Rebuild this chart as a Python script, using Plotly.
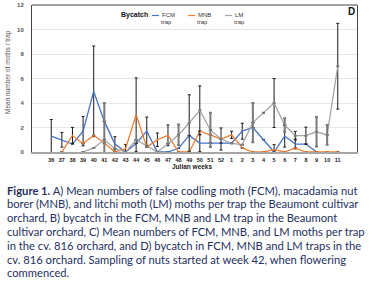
import plotly.graph_objects as go

# ---------------- data ----------------
weeks = ["36", "37", "38", "39", "40", "41", "42", "43", "44", "45", "46", "47", "48", "49",
         "50", "51", "52", "1", "2", "3", "4", "5", "6", "7", "8", "9", "10", "11"]

fcm = [1.3, 1.0, 0.65, 1.7, 4.95, 2.5, 0.65, 0, 0.7, 1.7, 0, 0, 0.3, 1.35,
       0.73, 0.73, 0.73, 0.73, 1.7, 2.0, 1.0, 0, 1.3, 0.65, 0.65, 0, None, None]
mnb = [None, 0, 1.36, 0.68, 1.36, 0.73, 0, 0.27, 3.05, 0.4, 1.0, 1.36, 0, 0,
       1.7, 1.4, 1.06, 1.4, 0.33, 0, 0, 0.2, 0, 0.33, 0, 0, 0, 0]
lm = [None, None, None, 0, 0.33, 1.0, 0.27, 0, 1.0, 0.5, 0, 0.68, 1.4, 2.37,
      3.4, 1.8, 1.06, 0.7, 0.6, 2.4, 3.2, 4.0, 2.2, 1.33, 1.33, 1.65, 1.4, 7.0]

fcm_err = [1.35, 0.6, None, 1.2, 3.7, None, 0.6, None, None, 1.15, None, None, None, None,
           0.7, None, None, None, 0.65, None, None, None, 0.9, 0.4, None, None, None, None]
mnb_err = [None, None, 0.65, None, None, None, None, 0.35, 3.0, None, 0.55, 0.85, None, None,
           None, None, None, 0.3, None, None, None, 0.4, None, None, None, None, None, None]
lm_err_dark = [None, None, None, None, None, None, None, None, None, None, None, None, None, 2.3,
               2.0, None, 0.9, None, None, None, None, 2.0, None, 0.35, 0.7, None, None, 3.5]
lm_err_grey = [None, None, None, None, None, 3.0, None, None, None, None, None, None, 0.85, None,
               None, 1.4, None, None, None, 1.6, None, None, 0.55, None, None, 1.2, 0.8, None]

series_names = ["FCM", "MNB", "LM"]
series_colors = ["#4472C4", "#ED7D31", "#A5A5A5"]
y_ticks = [0, 2, 4, 6, 8, 10, 12]

caption_lines = [
    "<b>Figure 1.</b> A) Mean numbers of false codling moth (FCM), macadamia nut",
    "borer (MNB), and litchi moth (LM) moths per trap the Beaumont cultivar",
    "orchard, B) bycatch in the FCM, MNB and LM trap in the Beaumont",
    "cultivar orchard, C) Mean numbers of FCM, MNB, and LM moths per trap",
    "in the cv. 816 orchard, and D) bycatch in FCM, MNB and LM traps in the",
    "cv. 816 orchard. Sampling of nuts started at week 42, when flowering",
    "commenced.",
]

# ---------------- layout helpers ----------------
W, H = 373, 290
L, R, T, B = 32, 16, 5, 138
PW, PH = W - L - R, H - T - B


def px(xp):
    return (xp - L) / PW


def py(yp):
    return (H - B - yp) / PH


fig = go.Figure()

err_black = dict(type="data", visible=True, color="#1a1a1a", thickness=1, width=1.5)

fig.add_trace(go.Scatter(x=weeks, y=fcm, mode="lines", name="FCM trap",
                         line=dict(color=series_colors[0], width=1.3),
                         error_y=dict(array=fcm_err, **err_black)))
fig.add_trace(go.Scatter(x=weeks, y=mnb, mode="lines", name="MNB trap",
                         line=dict(color=series_colors[1], width=1.3),
                         error_y=dict(array=mnb_err, **err_black)))
fig.add_trace(go.Scatter(x=weeks, y=lm, mode="lines", name="LM trap",
                         line=dict(color=series_colors[2], width=1.3),
                         error_y=dict(array=lm_err_dark, **err_black)))
fig.add_trace(go.Scatter(x=weeks, y=lm, mode="markers", showlegend=False, hoverinfo="skip",
                         marker=dict(size=1, color="rgba(0,0,0,0)"),
                         error_y=dict(type="data", array=lm_err_grey, color="#7a7a7a",
                                      thickness=2, width=1.5)))

fig.update_layout(
    width=W, height=H,
    margin=dict(l=L, r=R, t=T, b=B, pad=0, autoexpand=False),
    paper_bgcolor="white", plot_bgcolor="white",
    showlegend=False,
    font=dict(family="Liberation Sans, Arial, sans-serif"),
)

fig.update_xaxes(
    type="category", categoryorder="array", categoryarray=weeks,
    showgrid=False, showline=True, linecolor="#a6a6a6", linewidth=2,
    ticks="", tickfont=dict(size=5.5, color="#222", weight="bold"),
    ticklabelstandoff=1, zeroline=False, tickangle=0, automargin=False,
)
fig.update_yaxes(
    range=[0, 12], tickvals=y_ticks, showgrid=True, gridcolor="#e6e6e6", gridwidth=1,
    showline=True, linecolor="#444", linewidth=1, mirror=True,
    ticks="", tickfont=dict(size=6, color="#555", weight="bold"),
    ticklabelstandoff=6, zeroline=False, automargin=False,
)

shapes = [
    dict(type="line", xref="paper", yref="paper", x0=0, x1=1, y0=1, y1=1,
         line=dict(color="#444", width=1)),
]

annotations = []
# legend (manual, compact)
annotations.append(dict(text="<b>Bycatch</b>", x=px(119), y=py(15), xref="paper", yref="paper",
                        xanchor="left", yanchor="middle", showarrow=False,
                        font=dict(size=7, color="#111")))
leg_x = [152, 188, 225]
for i, (nm, col) in enumerate(zip(series_names, series_colors)):
    x0 = leg_x[i]
    shapes.append(dict(type="line", xref="paper", yref="paper", x0=px(x0), x1=px(x0 + 7),
                       y0=py(15.5), y1=py(15.5), line=dict(color=col, width=1.2)))
    annotations.append(dict(text=nm, x=px(x0 + 8), y=py(15.5), xref="paper", yref="paper",
                            xanchor="left", yanchor="middle", showarrow=False,
                            font=dict(size=6, color="#333")))
    annotations.append(dict(text="trap", x=px(x0 + 14), y=py(21.5), xref="paper", yref="paper",
                            xanchor="center", yanchor="middle", showarrow=False,
                            font=dict(size=6, color="#333")))

annotations.append(dict(text="<b>D</b>", x=px(351), y=py(11), xref="paper", yref="paper",
                        xanchor="center", yanchor="middle", showarrow=False,
                        font=dict(size=10, color="#111")))

# axis titles
annotations.append(dict(text="<b>Julian weeks</b>", x=px(192), y=py(166), xref="paper", yref="paper",
                        xanchor="center", yanchor="middle", showarrow=False,
                        font=dict(size=6.5, color="#222")))
annotations.append(dict(text="Mean number of moths / trap", x=px(8), y=py(72), xref="paper",
                        yref="paper", xanchor="center", yanchor="middle", showarrow=False,
                        textangle=-90, font=dict(size=6.5, color="#555")))

# caption
for i, line in enumerate(caption_lines):
    annotations.append(dict(text=line, x=px(5), y=py(190 + i * 13.8), xref="paper", yref="paper",
                            xanchor="left", yanchor="middle", showarrow=False, align="left",
                            font=dict(family="Lato, Open Sans, sans-serif", size=11.2,
                                      color="#25305e")))

fig.update_layout(shapes=shapes, annotations=annotations)

fig.write_html("out.html", config={"displayModeBar": False},
               post_script="document.body.style.margin='0';document.body.style.padding='0';")
